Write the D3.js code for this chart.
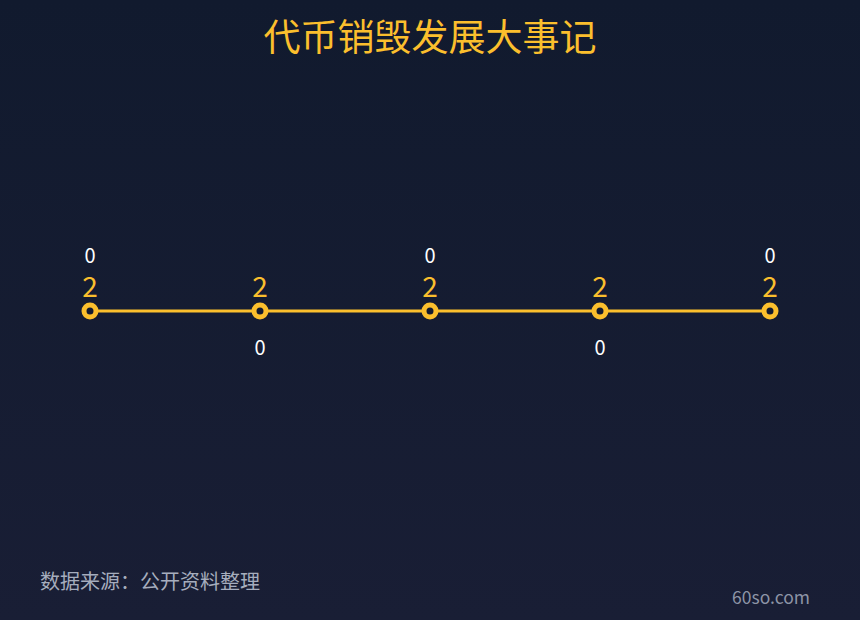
<!DOCTYPE html>
<html>
<head>
<meta charset="utf-8">
<script src="https://cdn.jsdelivr.net/npm/d3@7"></script>
<style>
  html, body { margin: 0; padding: 0; background: #141b30; }
  svg { display: block; }
</style>
</head>
<body>
<div id="chart"></div>
<script>
var width = 860
var height = 620

// data
var events = ['0', '0', '0', '0', '0']
var values = [2, 2, 2, 2, 2]
var labelSide = ['top', 'bottom', 'top', 'bottom', 'top']
var titleText = '代币销毁发展大事记'
var sourceText = '数据来源：公开资料整理'
var siteText = '60so.com'

var yellow = '#fbbf2d'
var font = '"Noto Sans CJK SC", "Noto Sans", sans-serif'

var svg = d3.select('#chart')
	.append('svg').attr('width', width).attr('height', height)

var defs = svg.append('defs')
var grad = defs.append('linearGradient')
	.attr('id', 'bg').attr('x1', 0).attr('y1', 0).attr('x2', 0).attr('y2', 1)
grad.append('stop').attr('offset', '0%').attr('stop-color', '#111a2e')
grad.append('stop').attr('offset', '100%').attr('stop-color', '#191e35')

svg.append('rect')
	.attr('width', width).attr('height', height)
	.attr('fill', 'url(#bg)')

svg.append('text')
	.attr('x', width / 2).attr('y', 51)
	.attr('text-anchor', 'middle')
	.attr('font-family', font)
	.attr('font-size', 37)
	.attr('fill', yellow)
	.text(titleText)

var x = d3.scalePoint()
	.domain(d3.range(events.length))
	.range([90, 770])

var y = d3.scaleLinear()
	.domain([0, 4])
	.range([622, 0])

var line = d3.line()
	.x((d, i) => x(i))
	.y(d => y(d))

svg.append('path')
	.datum(values)
	.attr('d', line)
	.attr('fill', 'none')
	.attr('stroke', yellow)
	.attr('stroke-width', 3)

var pts = svg.selectAll('.pt').data(values)
	.enter().append('g')
	.attr('class', 'pt')
	.attr('transform', (d, i) => `translate(${x(i)}, ${y(d)})`)

pts.append('circle')
	.attr('r', 6)
	.attr('fill', '#141b30')
	.attr('stroke', yellow)
	.attr('stroke-width', 5)

pts.append('text')
	.attr('y', -14)
	.attr('text-anchor', 'middle')
	.attr('font-family', font)
	.attr('font-size', 28)
	.attr('fill', yellow)
	.text(d => d)

pts.append('text')
	.attr('y', (d, i) => labelSide[i] === 'top' ? -48 : 44)
	.attr('text-anchor', 'middle')
	.attr('font-family', font)
	.attr('font-size', 20)
	.attr('fill', '#ffffff')
	.text((d, i) => events[i])

svg.append('text')
	.attr('x', 40).attr('y', 589)
	.attr('font-family', font)
	.attr('font-size', 20)
	.attr('fill', '#a6adbd')
	.text(sourceText)

svg.append('text')
	.attr('x', 810).attr('y', 604)
	.attr('text-anchor', 'end')
	.attr('font-family', font)
	.attr('font-size', 17.5)
	.attr('fill', '#8d94a6')
	.text(siteText)
</script>
</body>
</html>
